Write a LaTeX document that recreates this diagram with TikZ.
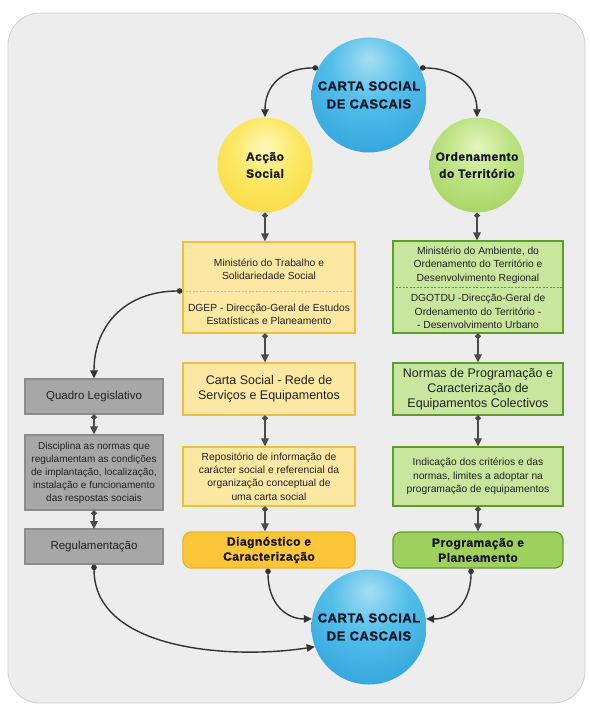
\documentclass[tikz,border=0pt]{standalone}
\usepackage{fontspec}
\setmainfont{Liberation Sans}
\newfontfamily\heavy[LetterSpace=4,FakeBold=1.2]{Liberation Sans}
\usetikzlibrary{arrows.meta}
\definecolor{bgfill}{HTML}{EDEDED}
\definecolor{bgline}{HTML}{CFCFCF}
\definecolor{bla}{HTML}{A6DEF4}
\definecolor{blb}{HTML}{55BFE9}
\definecolor{blc}{HTML}{2AA0DA}
\definecolor{bld}{HTML}{1D8CCB}
\definecolor{yla}{HTML}{FFF8B8}
\definecolor{ylb}{HTML}{FCE761}
\definecolor{ylc}{HTML}{F8D531}
\definecolor{yld}{HTML}{F2C722}
\definecolor{gra}{HTML}{E4F5BE}
\definecolor{grb}{HTML}{BCE282}
\definecolor{grc}{HTML}{98CD50}
\definecolor{grd}{HTML}{86BF3E}
\definecolor{yboxfill}{HTML}{FCE7A3}
\definecolor{yboxline}{HTML}{F1BE42}
\definecolor{ydark}{HTML}{FBC63A}
\definecolor{ydarkline}{HTML}{EEB226}
\definecolor{gboxfill}{HTML}{C9E69E}
\definecolor{gboxline}{HTML}{5E9C2F}
\definecolor{gdark}{HTML}{9DD05C}
\definecolor{grayfill}{HTML}{A7A7A7}
\definecolor{grayline}{HTML}{8C8C8C}
\definecolor{arrowc}{HTML}{4A4A4A}
\definecolor{curvec}{HTML}{333333}
\definecolor{txt}{HTML}{222222}
\definecolor{circtext}{HTML}{161628}
\pgfdeclareradialshading{bluesph}{\pgfpoint{0bp}{16bp}}{color(0bp)=(bla); color(16bp)=(blb); color(42bp)=(blc); color(66bp)=(bld); color(100bp)=(bld)}
\pgfdeclareradialshading{yellowsph}{\pgfpoint{0bp}{10bp}}{color(0bp)=(yla); color(18bp)=(ylb); color(44bp)=(ylc); color(66bp)=(yld); color(100bp)=(yld)}
\pgfdeclareradialshading{greensph}{\pgfpoint{0bp}{10bp}}{color(0bp)=(gra); color(18bp)=(grb); color(44bp)=(grc); color(66bp)=(grd); color(100bp)=(grd)}
\tikzset{
  sph/.style={circle, inner sep=0pt, align=center, text=circtext},
  bigsph/.style={sph, minimum size=115pt, font=\heavy\bfseries\fontsize{13}{18}\selectfont},
  smallsph/.style={sph, minimum size=95pt, font=\heavy\bfseries\fontsize{12}{17}\selectfont},
  ybox/.style={draw=yboxline, fill=yboxfill, line width=1.2pt, inner sep=0pt, minimum width=172pt},
  gbox/.style={draw=gboxline, fill=gboxfill, line width=1.2pt, inner sep=0pt, minimum width=170pt},
  graybox/.style={draw=grayline, fill=grayfill, line width=1.2pt, inner sep=0pt, minimum width=138pt, align=center, text=txt},
  btext/.style={align=center, text=txt, inner sep=0pt, font=\fontsize{10.3}{13.3}\selectfont},
  bigtext/.style={align=center, text=txt, font=\fontsize{12.5}{14.8}\selectfont},
  endbox/.style={rounded corners=8pt, line width=1.2pt, inner sep=0pt, minimum height=36pt, align=center, text=circtext, font=\heavy\bfseries\fontsize{12}{15}\selectfont},
  vconn/.style={draw=arrowc, line width=1.8pt, arrows={Circle[length=5.5pt]-Triangle[length=8pt,width=7.5pt]}},
  cconn/.style={draw=curvec, line width=1.4pt, arrows={Circle[length=5.5pt]-Triangle[length=8pt,width=7.5pt]}}
}
\begin{document}
\begin{tikzpicture}[x=1pt,y=-1pt]
\useasboundingbox (0,0) rectangle (589,706);
\fill[white] (0,0) rectangle (589,706);
\draw[draw=bgline, fill=bgfill, rounded corners=32pt, line width=0.8pt] (8,13) rectangle (585,703);

% circles
\node[bigsph, shading=bluesph] (top) at (369,95) {CARTA SOCIAL\\DE CASCAIS};
\node[smallsph, shading=yellowsph] (acc) at (265,165) {Acção\\Social};
\node[smallsph, shading=greensph] (ord) at (477,165) {Ordenamento\\do Território};
\node[bigsph, shading=bluesph] (bot) at (369,627) {CARTA SOCIAL\\DE CASCAIS};

% yellow column
\node[ybox, minimum height=91pt] (y1) at (269,287.5) {};
\draw[yboxline, line width=0.9pt, dash pattern=on 2pt off 1.5pt] (y1.west |- 0,291) -- (y1.east |- 0,291);
\coordinate (y1l) at (y1.west |- 0,291);
\node[btext] (y1a) at (269,269) {Ministério do Trabalho e\\Solidariedade Social};
\node[btext] (y1b) at (269,314) {DGEP - Direcção-Geral de Estudos\\Estatísticas e Planeamento};
\node[ybox, minimum height=52pt, bigtext] (y2) at (269,389) {Carta Social - Rede de\\Serviços e Equipamentos};
\node[ybox, minimum height=59pt, btext] (y3) at (269,476.5) {Repositório de informação de\\carácter social e referencial da\\organização conceptual de\\uma carta social};
\node[endbox, draw=ydarkline, fill=ydark, minimum width=172pt] (diag) at (269,550) {Diagnóstico e\\Caracterização};

% green column
\node[gbox, minimum height=92pt] (g1) at (478,287) {};
\draw[gboxline, line width=0.9pt, dash pattern=on 2pt off 1.5pt] (g1.west |- 0,287) -- (g1.east |- 0,287);
\node[btext] (g1a) at (478,265) {Ministério do Ambiente, do\\Ordenamento do Território e\\Desenvolvimento Regional};
\node[btext] (g1b) at (478,311.5) {DGOTDU -Direcção-Geral de\\Ordenamento do Território -\\- Desenvolvimento Urbano};
\node[gbox, minimum height=52pt, bigtext] (g2) at (478,389) {Normas de Programação e\\Caracterização de\\Equipamentos Colectivos};
\node[gbox, minimum height=59pt, btext] (g3) at (478,476.5) {Indicação dos critérios e das\\normas, limites a adoptar na\\programação de equipamentos};
\node[endbox, draw=gboxline, fill=gdark, minimum width=170pt] (prog) at (478,550) {Programação e\\Planeamento};

% gray column
\node[graybox, minimum height=35pt, font=\fontsize{11.5}{14}\selectfont] (q) at (94,396.5) {Quadro Legislativo};
\node[graybox, minimum height=75pt, font=\fontsize{10}{13}\selectfont] (d) at (94,472.5) {Disciplina as normas que\\regulamentam as condições\\de implantação, localização,\\instalação e funcionamento\\das respostas sociais};
\node[graybox, minimum height=35pt, font=\fontsize{11.5}{14}\selectfont] (r) at (94,546.5) {Regulamentação};

% connectors: top
\draw[cconn] (top.152) .. controls +(-35,0) and +(0,-32) .. (acc.north);
\draw[cconn] (top.28) .. controls +(35,0) and +(0,-32) .. (ord.north);

% vertical connectors
\draw[vconn] (acc.south) -- (acc.south |- y1.north);
\draw[vconn] (acc.south |- y1.south) -- (acc.south |- y2.north);
\draw[vconn] (acc.south |- y2.south) -- (acc.south |- y3.north);
\draw[vconn] (acc.south |- y3.south) -- (acc.south |- diag.north);
\draw[vconn] (ord.south) -- (ord.south |- g1.north);
\draw[vconn] (g1.south) -- (g2.north);
\draw[vconn] (g2.south) -- (g3.north);
\draw[vconn] (g3.south) -- (prog.north);
\draw[vconn] (q.south) -- (d.north);
\draw[vconn] (d.south) -- (r.south |- 0,529);

% curves
\draw[cconn] (y1l) .. controls +(-55,0) and +(0,-55) .. (q.north);
\draw[cconn] (r.south) .. controls +(0,86) and +(-83,13) .. (bot.200);
\draw[cconn] ([xshift=-1pt]diag.south) .. controls +(0,36) and +(-25,0) .. (bot.172);
\draw[cconn] ([xshift=-7pt]prog.south) .. controls +(0,36) and +(25,0) .. (bot.8);
\end{tikzpicture}
\end{document}
